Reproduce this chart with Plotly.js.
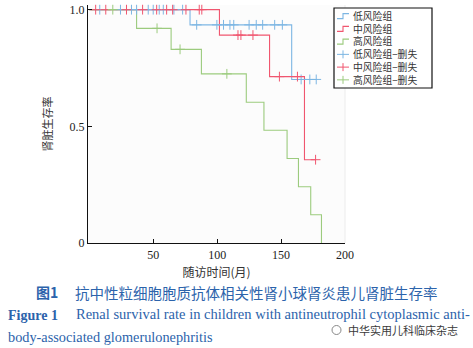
<!DOCTYPE html>
<html><head><meta charset="utf-8">
<script src="https://cdn.plot.ly/plotly-3.0.1.min.js"></script>
<style>html,body{margin:0;padding:0;background:#fff}#chart{width:473px;height:348px}</style>
</head><body><div id="chart"></div>
<script>
// ---- data ----
const groupNames = ['低风险组', '中风险组', '高风险组'];
const censorNames = ['低风险组−删失', '中风险组−删失', '高风险组−删失'];

// step curves: time (months) and survival
const lowT = [0, 78.8, 158.3, 177.5];
const lowS = [1, 0.935, 0.701, 0.701];
const midT = [0, 101.8, 141, 168.3, 177];
const midS = [1, 0.891, 0.713, 0.357, 0.357];
const highT = [0, 37, 64, 87.7, 122.8, 136.6, 154.7, 163.6, 173.2, 181.6];
const highS = [1, 0.92, 0.83, 0.725, 0.603, 0.483, 0.362, 0.241, 0.121, 0];

// censored observations
const lowCT = [8.2, 24.4, 33, 37, 46.1, 50, 54.7, 57.9, 66.2, 73, 84, 99.8, 105, 110, 113, 125, 130.6, 135.6, 145, 151, 165.7, 172.5, 177.5];
const lowCS = [1, 1, 1, 1, 1, 1, 1, 1, 1, 1, 0.935, 0.935, 0.935, 0.935, 0.935, 0.935, 0.935, 0.935, 0.935, 0.935, 0.701, 0.701, 0.701];
const midCT = [5, 12.9, 29.1, 41.7, 52.7, 60.5, 65.2, 75.6, 86, 88, 116.3, 118.6, 128, 148.7, 162.8, 177];
const midCS = [1, 1, 1, 1, 1, 1, 1, 1, 1, 1, 0.891, 0.891, 0.891, 0.713, 0.713, 0.357];
const highCT = [18.4, 53, 71, 107.6];
const highCS = [1, 0.92, 0.83, 0.725];

const xTicks = [50, 100, 150, 200];
const yTicks = [0, 0.5, 1];
const yTickText = ['0', '0.5', '1.0'];

// ---- styling ----
const colors = ['#7db6e3', '#f0566f', '#9ccb7e'];
const W = 473, H = 348, L = 88, R = 128, T = 5, B = 105;
const pw = W - L - R, ph = H - T - B;
const px = x => (x - L) / pw;
const py = y => (H - B - y) / ph;

const curves = [[lowT, lowS], [midT, midS], [highT, highS]];
const cens = [[lowCT, lowCS], [midCT, midCS], [highCT, highCS]];
const traces = [];
curves.forEach((c, i) => traces.push({
  x: c[0], y: c[1], mode: 'lines', name: groupNames[i], showlegend: false,
  line: {shape: 'hv', color: colors[i], width: 1.1}, cliponaxis: false, hoverinfo: 'skip'
}));
cens.forEach((c, i) => traces.push({
  x: c[0], y: c[1], mode: 'markers', name: censorNames[i], showlegend: false,
  marker: {symbol: 'cross-thin', size: 7, color: colors[i], line: {color: colors[i], width: 1}},
  cliponaxis: false, hoverinfo: 'skip'
}));

const shapes = [];
const annotations = [];
// right edge of plot area (faint)
shapes.push({type: 'line', xref: 'paper', yref: 'paper', x0: 1, x1: 1, y0: 0, y1: 1, line: {color: '#ececec', width: 1}});
// legend box
shapes.push({type: 'rect', xref: 'paper', yref: 'paper', x0: px(334), x1: px(432), y0: py(8), y1: py(88), line: {color: '#111', width: 1.2}, fillcolor: '#fff'});
const legNames = groupNames.concat(censorNames);
const legSize = 9.8, legGap = legSize * 1.3, legMid = 48;
legNames.forEach((nm, i) => {
  const y = legMid + (i - 2.5) * legGap;
  const c = colors[i % 3];
  if (i < 3) {
    shapes.push({type: 'path', xref: 'paper', yref: 'paper',
      path: `M${px(337)},${py(y + 2.5)} L${px(343)},${py(y + 2.5)} L${px(343)},${py(y - 2.5)} L${px(349)},${py(y - 2.5)}`,
      line: {color: c, width: 1.1}});
  } else {
    shapes.push({type: 'line', xref: 'paper', yref: 'paper', x0: px(337), x1: px(349), y0: py(y), y1: py(y), line: {color: c, width: 1}});
    shapes.push({type: 'line', xref: 'paper', yref: 'paper', x0: px(343), x1: px(343), y0: py(y - 4), y1: py(y + 4), line: {color: c, width: 1}});
  }
});
annotations.push({xref: 'paper', yref: 'paper', x: px(352), y: py(legMid), xanchor: 'left', yanchor: 'middle', align: 'left',
  text: legNames.join('<br>'), showarrow: false, borderpad: 0, font: {family: 'Noto Sans CJK SC', size: legSize, color: '#333'}});

// captions
const blue = '#2c63ab';
annotations.push({xref: 'paper', yref: 'paper', x: px(35), y: py(292), xanchor: 'left', yanchor: 'middle', showarrow: false, borderpad: 0,
  text: '<b>图1</b>', font: {family: 'Noto Sans CJK SC', size: 14, color: blue}});
annotations.push({xref: 'paper', yref: 'paper', x: px(74), y: py(292), xanchor: 'left', yanchor: 'middle', showarrow: false, borderpad: 0,
  text: '抗中性粒细胞胞质抗体相关性肾小球肾炎患儿肾脏生存率', font: {family: 'Noto Sans CJK SC', size: 14.5, color: blue}});
annotations.push({xref: 'paper', yref: 'paper', x: px(7), y: py(315), xanchor: 'left', yanchor: 'middle', showarrow: false, borderpad: 0,
  text: '<b>Figure 1</b>', font: {family: 'Liberation Serif', size: 14, color: blue}});
annotations.push({xref: 'paper', yref: 'paper', x: px(75), y: py(314), xanchor: 'left', yanchor: 'middle', showarrow: false, borderpad: 0,
  text: 'Renal survival rate in children with antineutrophil cytoplasmic anti-', font: {family: 'Liberation Serif', size: 14.5, color: blue}});
annotations.push({xref: 'paper', yref: 'paper', x: px(7), y: py(337), xanchor: 'left', yanchor: 'middle', showarrow: false, borderpad: 0,
  text: 'body-associated glomerulonephritis', font: {family: 'Liberation Serif', size: 14.3, color: blue}});
// watermark
shapes.push({type: 'circle', xref: 'paper', yref: 'paper', x0: px(332), x1: px(341), y0: py(325.5), y1: py(334.5), line: {color: '#888', width: 1}});
annotations.push({xref: 'paper', yref: 'paper', x: px(347), y: py(330), xanchor: 'left', yanchor: 'middle', showarrow: false, borderpad: 0,
  text: '中华实用儿科临床杂志', font: {family: 'Noto Sans CJK SC', size: 11, color: '#3a3a3a'}});

const layout = {
  width: W, height: H,
  margin: {l: L, r: R, t: T, b: B, pad: 0},
  paper_bgcolor: '#ffffff', plot_bgcolor: '#fcfcfc',
  showlegend: false,
  font: {family: 'Liberation Serif', color: '#222'},
  xaxis: {
    range: [-1, 200], tickvals: xTicks, ticks: 'inside', ticklen: 4, tickcolor: '#111',
    showline: true, linecolor: '#111', linewidth: 1.2, showgrid: false, zeroline: false,
    tickfont: {family: 'Liberation Serif', size: 12, color: '#222'},
    title: {text: '随访时间(月)', font: {family: 'Noto Sans CJK SC', size: 12, color: '#333'}, standoff: 8}
  },
  yaxis: {
    range: [0, 1.02], tickvals: yTicks, ticktext: yTickText, ticks: 'inside', ticklen: 4, tickcolor: '#111',
    showline: true, linecolor: '#111', linewidth: 1.2, showgrid: false, zeroline: false,
    tickfont: {family: 'Liberation Serif', size: 12, color: '#222'},
    title: {text: '肾脏生存率', font: {family: 'Noto Sans CJK SC', size: 11, color: '#333'}, standoff: 14}
  },
  shapes: shapes, annotations: annotations
};
Plotly.newPlot('chart', traces, layout, {displayModeBar: false, staticPlot: true});
</script></body></html>
